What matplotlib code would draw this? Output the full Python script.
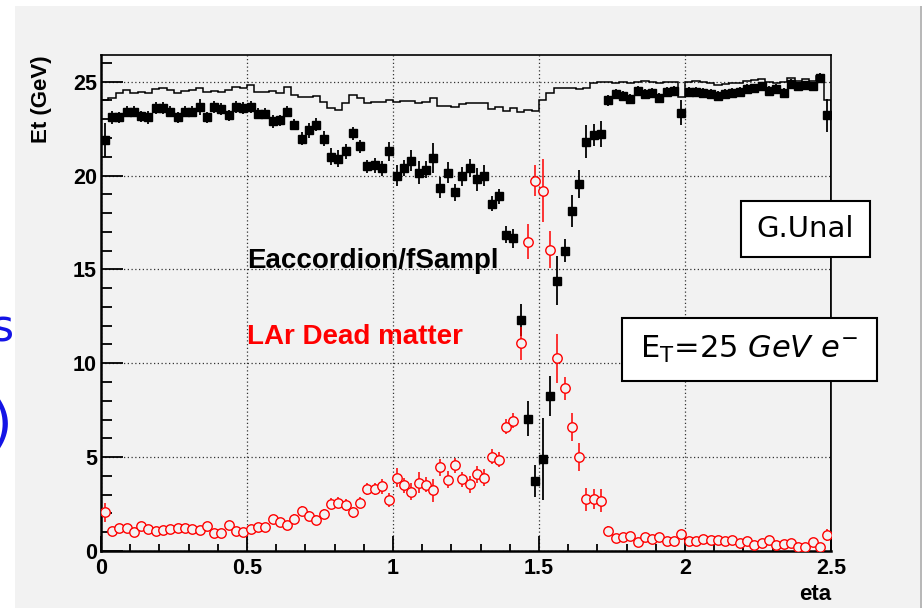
import numpy as np
import matplotlib.pyplot as plt
from matplotlib.patches import Rectangle

# ============ Data (100 eta bins, 0 - 2.5) ============

hist_top = [
    24.03, 24.15, 24.38, 24.56, 24.42, 24.47, 24.38, 24.61, 24.68, 24.56,
    24.38, 24.52, 24.56, 24.65, 24.47, 24.52, 24.45, 24.56, 24.74, 24.68,
    24.83, 24.47, 24.47, 24.52, 24.42, 24.74, 24.29, 24.17, 24.20, 24.24,
    23.90, 23.58, 23.50, 23.88, 24.29, 24.12, 23.85, 23.90, 23.90, 24.00,
    23.90, 23.95, 23.95, 23.85, 23.90, 24.15, 23.73, 23.73, 23.64, 23.83,
    23.88, 23.85, 23.85, 23.55, 23.66, 23.46, 23.60, 23.37, 23.50, 23.42,
    24.03, 24.38, 24.65, 24.65, 24.68, 24.60, 24.65, 24.92, 25.00, 25.00,
    24.95, 25.00, 24.95, 25.00, 25.06, 25.00, 24.95, 25.00, 25.00, 24.20,
    25.00, 25.06, 25.00, 24.95, 24.83, 24.88, 24.95, 24.92, 25.06, 25.10,
    25.13, 25.00, 24.92, 25.00, 25.18, 25.06, 25.13, 25.06, 25.30, 24.03,
]

eacc = [
    21.90, 23.10, 23.10, 23.40, 23.40, 23.15, 23.10, 23.60, 23.60, 23.40,
    23.10, 23.40, 23.40, 23.65, 23.10, 23.65, 23.55, 23.20, 23.65, 23.60,
    23.65, 23.30, 23.30, 22.90, 22.95, 23.40, 22.70, 21.95, 22.40, 22.70,
    21.95, 21.00, 20.90, 21.30, 22.25, 21.55, 20.50, 20.55, 20.40, 21.30,
    20.00, 20.40, 20.80, 20.15, 20.30, 20.95, 19.35, 20.15, 19.10, 19.95,
    20.40, 19.80, 20.00, 18.50, 18.90, 16.85, 16.65, 12.30, 7.05, 3.75,
    4.90, 8.25, 14.40, 16.00, 18.10, 19.55, 21.80, 22.15, 22.20, 24.00,
    24.35, 24.25, 24.10, 24.50, 24.35, 24.40, 24.15, 24.45, 24.50, 23.35,
    24.45, 24.45, 24.40, 24.35, 24.25, 24.35, 24.40, 24.45, 24.60, 24.65,
    24.75, 24.50, 24.60, 24.40, 24.90, 24.75, 24.80, 24.75, 25.20, 23.20,
]

eacc_err = [
    0.90, 0.35, 0.30, 0.30, 0.30, 0.30, 0.35, 0.30, 0.30, 0.30,
    0.30, 0.30, 0.30, 0.40, 0.30, 0.30, 0.30, 0.30, 0.30, 0.30,
    0.30, 0.30, 0.30, 0.35, 0.30, 0.30, 0.30, 0.35, 0.40, 0.35,
    0.40, 0.45, 0.45, 0.40, 0.35, 0.35, 0.35, 0.40, 0.40, 0.50,
    0.55, 0.45, 0.55, 0.60, 0.45, 0.80, 0.55, 0.55, 0.45, 0.50,
    0.50, 0.60, 0.55, 0.40, 0.40, 0.45, 0.50, 0.85, 0.93, 0.85,
    2.20, 1.07, 1.30, 0.60, 0.85, 0.75, 0.87, 0.60, 0.70, 0.30,
    0.25, 0.25, 0.25, 0.25, 0.25, 0.25, 0.25, 0.25, 0.25, 0.67,
    0.25, 0.25, 0.25, 0.25, 0.25, 0.25, 0.25, 0.25, 0.25, 0.25,
    0.25, 0.25, 0.25, 0.25, 0.25, 0.25, 0.25, 0.25, 0.25, 0.90,
]

dead = [
    2.06, 1.05, 1.25, 1.20, 0.99, 1.33, 1.17, 1.05, 1.12, 1.19,
    1.20, 1.20, 1.15, 1.10, 1.33, 0.94, 0.94, 1.40, 1.06, 0.99,
    1.17, 1.26, 1.30, 1.69, 1.53, 1.38, 1.72, 2.13, 1.88, 1.65,
    1.98, 2.52, 2.58, 2.45, 2.06, 2.58, 3.30, 3.30, 3.45, 2.72,
    3.90, 3.50, 3.16, 3.64, 3.52, 3.23, 4.45, 3.80, 4.57, 3.82,
    3.55, 4.09, 3.90, 5.02, 4.85, 6.62, 6.93, 11.07, 16.48, 19.73,
    19.20, 16.04, 10.27, 8.67, 6.62, 4.99, 2.75, 2.77, 2.68, 1.08,
    0.68, 0.73, 0.82, 0.46, 0.73, 0.62, 0.73, 0.55, 0.55, 0.89,
    0.55, 0.55, 0.62, 0.60, 0.60, 0.55, 0.60, 0.41, 0.55, 0.32,
    0.41, 0.59, 0.32, 0.37, 0.41, 0.23, 0.23, 0.46, 0.23, 0.85,
]

dead_err = [
    0.50, 0.20, 0.20, 0.20, 0.20, 0.20, 0.20, 0.20, 0.20, 0.20,
    0.20, 0.20, 0.20, 0.20, 0.20, 0.20, 0.20, 0.20, 0.20, 0.20,
    0.20, 0.20, 0.20, 0.25, 0.20, 0.20, 0.25, 0.25, 0.25, 0.25,
    0.25, 0.30, 0.30, 0.30, 0.30, 0.30, 0.30, 0.30, 0.40, 0.35,
    0.50, 0.40, 0.45, 0.55, 0.40, 0.60, 0.45, 0.45, 0.40, 0.40,
    0.45, 0.45, 0.45, 0.40, 0.40, 0.40, 0.40, 0.87, 0.94, 0.82,
    1.70, 0.98, 1.30, 0.62, 0.75, 0.74, 0.60, 0.55, 0.60, 0.25,
    0.20, 0.20, 0.20, 0.20, 0.20, 0.20, 0.20, 0.20, 0.20, 0.20,
    0.20, 0.20, 0.20, 0.20, 0.20, 0.20, 0.20, 0.20, 0.20, 0.20,
    0.20, 0.20, 0.20, 0.20, 0.20, 0.20, 0.20, 0.20, 0.20, 0.30,
]

edges = np.linspace(0, 2.5, len(hist_top) + 1)
centers = 0.5 * (edges[:-1] + edges[1:])

# ============ Canvas ============

W, H = 924, 608
bg = "#f2f2f2"
fig = plt.figure(figsize=(W / 100, H / 100), dpi=100, facecolor="white")
fig.add_artist(Rectangle((15 / W, 0), 905 / W, 602 / H, transform=fig.transFigure,
                         facecolor=bg, edgecolor="none", zorder=-10))
fig.add_artist(Rectangle((920 / W, 0), 1.5 / W, 602 / H, transform=fig.transFigure,
                         facecolor="#b8b8b8", edgecolor="none", zorder=-9))

ax = fig.add_axes([101 / W, 1 - 551 / H, 730 / W, 496 / H])
ax.set_facecolor(bg)

ax.stairs(hist_top, edges, color="black", lw=1.1, zorder=2)

ax.errorbar(centers, eacc, yerr=eacc_err, fmt="none", ecolor="black", elinewidth=1.3, zorder=3)
ax.plot(centers, eacc, "s", color="black", ms=6.3, zorder=4)

ax.errorbar(centers, dead, yerr=dead_err, fmt="none", ecolor="red", elinewidth=1.1, zorder=5)
ax.plot(centers, dead, "o", mfc=bg, mec="red", mew=1.0, ms=6.8, zorder=6)

ax.set_xlim(0, 2.5)
ax.set_ylim(0, 26.42)
ax.set_xticks([0, 0.5, 1, 1.5, 2, 2.5])
ax.set_xticklabels(["0", "0.5", "1", "1.5", "2", "2.5"])
ax.set_xticks(np.arange(0, 2.51, 0.1), minor=True)
ax.set_yticks([0, 5, 10, 15, 20, 25])
ax.set_yticks(np.arange(0, 27, 1), minor=True)

ax.grid(True, which="major", color="#333333", linestyle=(0, (1, 2)), lw=0.9)
ax.set_axisbelow(True)

ax.tick_params(axis="both", which="both", direction="in", top=False, right=False, width=1.3)
ax.tick_params(axis="y", which="major", length=15.8, pad=3)
ax.tick_params(axis="y", which="minor", length=7.9)
ax.tick_params(axis="x", which="major", length=10.8, pad=5)
ax.tick_params(axis="x", which="minor", length=5.4)
for lab in ax.get_xticklabels() + ax.get_yticklabels():
    lab.set_fontfamily("Liberation Sans")
    lab.set_fontweight("bold")
    lab.set_fontsize(15.5)

for side in ["left", "bottom"]:
    ax.spines[side].set_linewidth(1.8)
for side in ["top", "right"]:
    ax.spines[side].set_linewidth(1.2)

# ============ Axis titles and labels ============

font = dict(family="Liberation Sans", weight="bold")
fig.text(42 / W, 1 - 55 / H, "Et (GeV)", rotation=90, ha="center", va="top", fontsize=16, **font)
fig.text(831 / W, 1 - 594 / H, "eta", ha="right", va="center", fontsize=16, **font)

ax.text(0.5, 15.08, "Eaccordion/fSampl", ha="left", va="baseline", fontsize=20, color="black", **font)
ax.text(0.5, 11.03, "LAr Dead matter", ha="left", va="baseline", fontsize=20, color="red", **font)

# ============ Boxes ============

def box(x0, y0, x1, y1, text, size):
    fig.add_artist(Rectangle((x0 / W, 1 - y1 / H), (x1 - x0) / W, (y1 - y0) / H,
                             transform=fig.transFigure, facecolor="white",
                             edgecolor="black", lw=1.5, zorder=10))
    fig.text((x0 + x1) / 2 / W, 1 - (y0 + y1) / 2 / H, text, ha="center", va="center",
             fontsize=size, family="DejaVu Sans", zorder=11)

box(741, 201, 870, 257, "G.Unal", 21)
box(622, 318, 877, 381, r"E$_{\mathregular{T}}$=25 $\it{GeV\ e}^{-}$", 22)

# slide text cut off at the left edge, as in the source slide
fig.text(14 / W, 1 - 342 / H, "s", ha="right", va="baseline", fontsize=32, color="#1414e6")
fig.text(12 / W, 1 - 426 / H, ")", ha="right", va="center", fontsize=40, color="#1414e6")

fig.savefig("out.png", dpi=100, facecolor="white")
